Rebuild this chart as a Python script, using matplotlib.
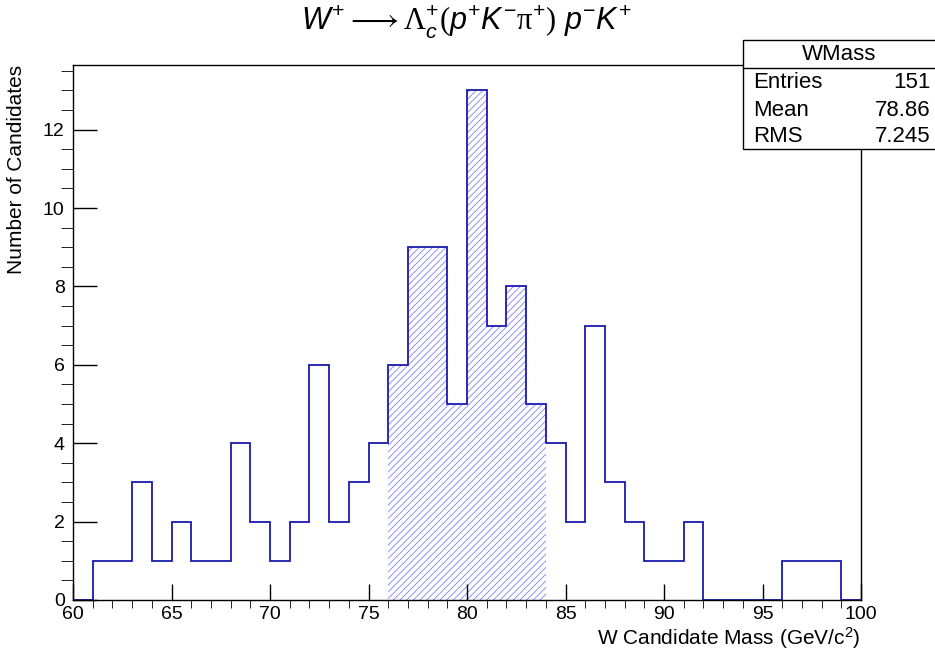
import numpy as np
import matplotlib
matplotlib.use("Agg")
import matplotlib.pyplot as plt
from matplotlib.patches import Rectangle
from matplotlib.lines import Line2D

plt.rcParams['font.family'] = ['Liberation Sans', 'DejaVu Sans']
plt.rcParams['mathtext.fontset'] = 'custom'
plt.rcParams['mathtext.rm'] = 'Liberation Serif'
plt.rcParams['mathtext.sf'] = 'Liberation Sans'
plt.rcParams['mathtext.it'] = 'Liberation Sans:italic'
plt.rcParams['hatch.linewidth'] = 0.6

# histogram data, 1 GeV bins from 60 to 100
bin_edges = np.arange(60, 101, 1)
counts = [0, 1, 1, 3, 1, 2, 1, 1, 4, 2,
          1, 2, 6, 2, 3, 4, 6, 9, 9, 5,
          13, 7, 8, 5, 4, 2, 7, 3, 2, 1,
          1, 2, 0, 0, 0, 0, 1, 1, 1, 0]
sel_lo, sel_hi = 76, 84  # hatched signal window

stat_names = ["Entries", "Mean", "RMS"]
stat_values = ["151", "78.86", "7.245"]

counts = np.array(counts)
line_col = '#1a1ab0'
hatch_col = '#8080ff'

my_dpi = 100
fig = plt.figure(figsize=(935/my_dpi, 651/my_dpi), dpi=my_dpi)
ax = fig.add_axes([73/935, 1-600/651, (861-73)/935, (600-65)/651])

i0 = sel_lo - 60
i1 = sel_hi - 60
ax.stairs(counts[i0:i1], bin_edges[i0:i1+1], fill=True, facecolor='none',
          edgecolor=hatch_col, hatch='/////', linewidth=0)
ax.stairs(counts, bin_edges, color=line_col, linewidth=1.3, baseline=0)

ax.set_xlim(60, 100)
ax.set_ylim(0, counts.max()*1.05)
ax.set_xticks(np.arange(60, 101, 5))
ax.set_xticks(np.arange(60, 101, 1), minor=True)
ax.set_yticks(np.arange(0, 13, 2))
ax.set_yticks(np.arange(0, 13.6, 0.5), minor=True)
ax.tick_params(axis='both', direction='in', labelsize=14, width=1, colors='black')
ax.tick_params(axis='x', which='major', length=11.5, pad=4)
ax.tick_params(axis='x', which='minor', length=5.8)
ax.tick_params(axis='y', which='major', length=17, pad=6)
ax.tick_params(axis='y', which='minor', length=8.6)
for s in ax.spines.values():
    s.set_linewidth(1.0)

ax.set_xlabel(r"W Candidate Mass (GeV/c$^{\mathsf{2}}$)", fontsize=15, loc='right', labelpad=2)
ax.set_ylabel("Number of Candidates", fontsize=15, loc='top', labelpad=12)

# title, ROOT-ish: sans italic letters, serif greek
pl = r"^{\mathsf{+}}"
mi = r"^{\mathsf{-}}"
title = (r"$W" + pl + r" \longrightarrow \mathrm{\Lambda}_{c}" + pl
         + r"\mathit{(}p" + pl + "K" + mi + r"\mathrm{\pi}" + pl + r"\mathit{)}\ p"
         + mi + "K" + pl + "$")
fig.text(466/935, 1-22/651, title, ha='center', va='center', fontsize=22)

# stats box
bx0, bx1 = 743/935, 1.2
by0, by1 = 1-149/651, 1-40/651
fig.patches.append(Rectangle((bx0, by0), bx1-bx0, by1-by0, transform=fig.transFigure,
                             facecolor='white', edgecolor='black', linewidth=1.0, zorder=5))
fig.lines.append(Line2D([bx0, 1], [1-68/651]*2, transform=fig.transFigure,
                        color='black', linewidth=1.0, zorder=6))
fig.text((743+935)/2/935, 1-55/651, "WMass", ha='center', va='center', fontsize=16, zorder=7)
for k, (n, v) in enumerate(zip(stat_names, stat_values)):
    yy = 1-(83+27*k)/651
    fig.text(753/935, yy, n, ha='left', va='center', fontsize=16, zorder=7)
    fig.text(931/935, yy, v, ha='right', va='center', fontsize=16, zorder=7)

fig.savefig("out.png", dpi=my_dpi)
